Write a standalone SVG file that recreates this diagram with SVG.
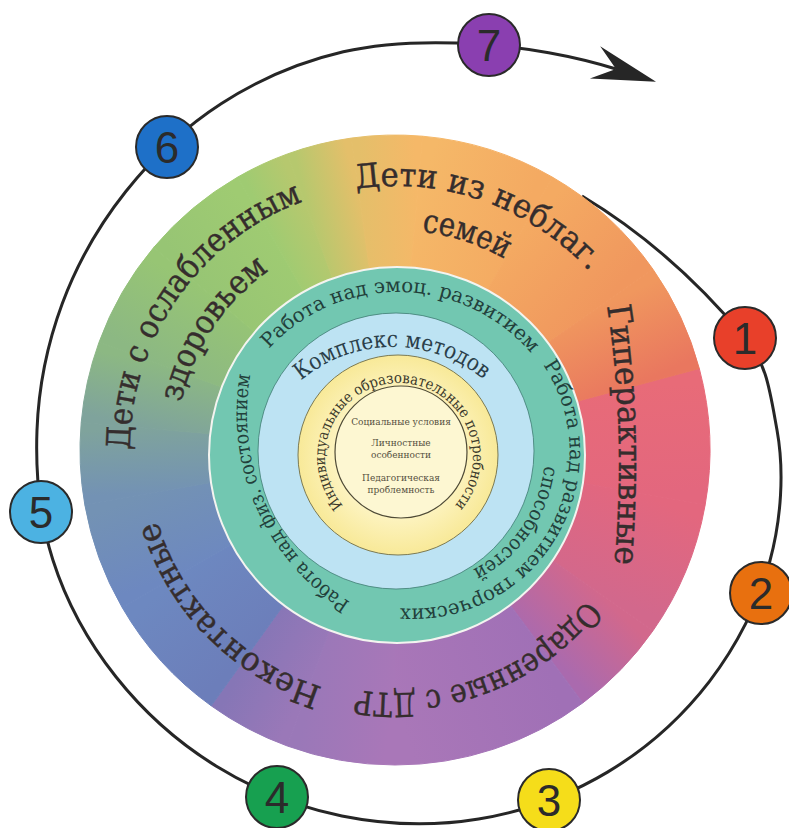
<svg xmlns="http://www.w3.org/2000/svg" width="789" height="828" viewBox="0 0 789 828">
<defs>
<style>
.ot{font-family:"DejaVu Serif","Liberation Serif",serif;font-size:33px;fill:#352d2d;stroke:#352d2d;stroke-width:0.4}
.tt{font-family:"DejaVu Serif","Liberation Serif",serif;font-size:20px;fill:#22403b}
.bt{font-family:"DejaVu Serif","Liberation Serif",serif;font-size:23px;fill:#2b3f4a}
.yt{font-family:"DejaVu Serif","Liberation Serif",serif;font-size:15px;fill:#3c3a2c}
.ct{font-family:"DejaVu Serif","Liberation Serif",serif;font-size:9px;fill:#55503e;text-anchor:middle}
.num{font-family:"Liberation Sans",Arial,sans-serif;font-size:44px;fill:#2b2b2b;text-anchor:middle}
.step{stroke:#2a2a2a;stroke-width:2}
.orbit{fill:none;stroke:#262626;stroke-width:3}
</style>
<linearGradient id="w1" gradientUnits="userSpaceOnUse" x1="636.5" y1="385.3" x2="641.2" y2="493.4"><stop offset="0" stop-color="#e86b78"/><stop offset="1" stop-color="#e3677e"/></linearGradient>
<linearGradient id="w2" gradientUnits="userSpaceOnUse" x1="641.2" y1="493.4" x2="599.8" y2="593.4"><stop offset="0" stop-color="#e3677e"/><stop offset="1" stop-color="#d2688c"/></linearGradient>
<linearGradient id="w3" gradientUnits="userSpaceOnUse" x1="599.8" y1="593.4" x2="544.1" y2="650.7"><stop offset="0" stop-color="#d2688c"/><stop offset="1" stop-color="#aa6aae"/></linearGradient>
<linearGradient id="w4" gradientUnits="userSpaceOnUse" x1="544.1" y1="650.7" x2="395" y2="700"><stop offset="0" stop-color="#a070b6"/><stop offset="1" stop-color="#a977b8"/></linearGradient>
<linearGradient id="w5" gradientUnits="userSpaceOnUse" x1="395" y1="700" x2="309.5" y2="684.9"><stop offset="0" stop-color="#a977b8"/><stop offset="1" stop-color="#9a78b8"/></linearGradient>
<linearGradient id="w6" gradientUnits="userSpaceOnUse" x1="309.5" y1="684.9" x2="249.1" y2="653"><stop offset="0" stop-color="#9a78b8"/><stop offset="1" stop-color="#8676b6"/></linearGradient>
<linearGradient id="w7" gradientUnits="userSpaceOnUse" x1="249.1" y1="653" x2="178.5" y2="575"><stop offset="0" stop-color="#6c7eba"/><stop offset="1" stop-color="#6d88c0"/></linearGradient>
<linearGradient id="w8" gradientUnits="userSpaceOnUse" x1="178.5" y1="575" x2="148.8" y2="493.4"><stop offset="0" stop-color="#6d88c0"/><stop offset="1" stop-color="#7392b4"/></linearGradient>
<linearGradient id="w9" gradientUnits="userSpaceOnUse" x1="148.8" y1="493.4" x2="145.9" y2="428.2"><stop offset="0" stop-color="#7392b4"/><stop offset="1" stop-color="#7fa39c"/></linearGradient>
<linearGradient id="w10" gradientUnits="userSpaceOnUse" x1="145.9" y1="428.2" x2="160.1" y2="364.5"><stop offset="0" stop-color="#7fa39c"/><stop offset="1" stop-color="#8cb883"/></linearGradient>
<linearGradient id="w11" gradientUnits="userSpaceOnUse" x1="160.1" y1="364.5" x2="203.5" y2="289.3"><stop offset="0" stop-color="#8cb883"/><stop offset="1" stop-color="#97c574"/></linearGradient>
<linearGradient id="w12" gradientUnits="userSpaceOnUse" x1="203.5" y1="289.3" x2="270" y2="233.5"><stop offset="0" stop-color="#97c574"/><stop offset="1" stop-color="#9fcb72"/></linearGradient>
<linearGradient id="w13" gradientUnits="userSpaceOnUse" x1="270" y1="233.5" x2="309.5" y2="215.1"><stop offset="0" stop-color="#9fcb72"/><stop offset="1" stop-color="#b6c86e"/></linearGradient>
<linearGradient id="w14" gradientUnits="userSpaceOnUse" x1="309.5" y1="215.1" x2="360.2" y2="202.4"><stop offset="0" stop-color="#b6c86e"/><stop offset="1" stop-color="#e4bf6a"/></linearGradient>
<linearGradient id="w15" gradientUnits="userSpaceOnUse" x1="360.2" y1="202.4" x2="416.8" y2="200.9"><stop offset="0" stop-color="#e4bf6a"/><stop offset="1" stop-color="#f5b868"/></linearGradient>
<linearGradient id="w16" gradientUnits="userSpaceOnUse" x1="416.8" y1="200.9" x2="520" y2="233.5"><stop offset="0" stop-color="#f5b868"/><stop offset="1" stop-color="#f4aa62"/></linearGradient>
<linearGradient id="w17" gradientUnits="userSpaceOnUse" x1="520" y1="233.5" x2="599.8" y2="306.6"><stop offset="0" stop-color="#f4aa62"/><stop offset="1" stop-color="#f0975e"/></linearGradient>
<linearGradient id="w18" gradientUnits="userSpaceOnUse" x1="599.8" y1="306.6" x2="636.5" y2="385.3"><stop offset="0" stop-color="#f0975e"/><stop offset="1" stop-color="#e9775f"/></linearGradient>
<radialGradient id="yel" gradientUnits="userSpaceOnUse" cx="398" cy="455" r="100"><stop offset="0" stop-color="#fffbe3"/><stop offset="0.6" stop-color="#fdf4c2"/><stop offset="1" stop-color="#f8e998"/></radialGradient>
<marker id="arrow" markerUnits="userSpaceOnUse" markerWidth="80" markerHeight="50" refX="0" refY="0" orient="auto" overflow="visible"><path d="M42,0 L-22,-17 L0,0 L-22,17 Z" fill="#262626"/></marker>
<path id="p1" d="M356,188.9 A264,264 0 0 1 643.1,359.7"/>
<path id="p2" d="M421.8,231.6 A220,220 0 0 1 601.7,374.8"/>
<path id="p3" d="M607,306 Q628,440 612,590"/>
<path id="p4" d="M586.5,599.6 A243,243 0 0 1 311.9,678.3"/>
<path id="p5" d="M322.5,687.2 A248,248 0 0 1 147.9,471.6"/>
<path id="p6" d="M130,450 A265,265 0 0 1 358.1,187.6"/>
<path id="p7" d="M181.2,402.6 A219,219 0 0 1 357,234.3"/>
<path id="p8" d="M269,348.8 A175,175 0 0 1 549.6,379.5"/>
<path id="p9" d="M543.1,364.9 A156.5,156.5 0 0 1 359.5,599.1"/>
<path id="p10" d="M544.3,465.8 A132,132 0 0 1 390.1,582"/>
<path id="p11" d="M350.2,602.1 A223,223 0 0 1 260.4,337.7"/>
<path id="p12" d="M300.9,380.6 A143,143 0 0 1 516.8,418.5"/>
<path id="p13" d="M343.2,505.6 A74,74 0 1 1 446.6,513.7"/>
</defs>
<rect width="789" height="828" fill="#ffffff"/>
<g id="connectors">
<path class="orbit" marker-end="url(#arrow)" d="M582,196 Q672,250 745,338 C766.9,364.4 769.5,388.5 777,430 C784.5,471.5 781.2,519.1 769.9,561 C758.7,602.9 736.6,646.1 709.5,681.3 C682.4,716.5 646,749.1 607.5,772.1 C569,795.1 522.9,811.7 478.6,819 C434.3,826.3 385.7,824.8 341.9,816 C298.1,807.2 253.7,789.2 216,766 C178.3,742.8 143.1,711.1 115.9,676.8 C88.7,642.5 66.05,601.1 52.9,560 C39.75,518.9 35.4,472.8 37,430 C38.6,387.3 47.5,343.3 62.3,303.5 C77.1,263.8 99.3,224.8 125.8,191.5 C152.3,158.2 185.25,126.8 221.5,103.5 C257.75,80.2 300.5,61.7 343.3,51.8 C386.1,41.9 432.6,41.2 478.1,44 C523.6,46.8 575,56 616,69"/>
</g>
<g id="ring-outer">
<path fill="url(#w1)" stroke="url(#w1)" d="M395,450 L699.3,368.5 A315,315 0 0 1 705.2,504.7 Z"/>
<path fill="url(#w2)" stroke="url(#w2)" d="M395,450 L705.2,504.7 A315,315 0 0 1 653,630.7 Z"/>
<path fill="url(#w3)" stroke="url(#w3)" d="M395,450 L653,630.7 A315,315 0 0 1 582.8,702.9 Z"/>
<path fill="url(#w4)" stroke="url(#w4)" d="M395,450 L582.8,702.9 A315,315 0 0 1 395,765 Z"/>
<path fill="url(#w5)" stroke="url(#w5)" d="M395,450 L395,765 A315,315 0 0 1 287.3,746 Z"/>
<path fill="url(#w6)" stroke="url(#w6)" d="M395,450 L287.3,746 A315,315 0 0 1 211.2,705.8 Z"/>
<path fill="url(#w7)" stroke="url(#w7)" d="M395,450 L211.2,705.8 A315,315 0 0 1 122.2,607.5 Z"/>
<path fill="url(#w8)" stroke="url(#w8)" d="M395,450 L122.2,607.5 A315,315 0 0 1 84.8,504.7 Z"/>
<path fill="url(#w9)" stroke="url(#w9)" d="M395,450 L84.8,504.7 A315,315 0 0 1 81.2,422.5 Z"/>
<path fill="url(#w10)" stroke="url(#w10)" d="M395,450 L81.2,422.5 A315,315 0 0 1 99,342.3 Z"/>
<path fill="url(#w11)" stroke="url(#w11)" d="M395,450 L99,342.3 A315,315 0 0 1 153.7,247.5 Z"/>
<path fill="url(#w12)" stroke="url(#w12)" d="M395,450 L153.7,247.5 A315,315 0 0 1 237.5,177.2 Z"/>
<path fill="url(#w13)" stroke="url(#w13)" d="M395,450 L237.5,177.2 A315,315 0 0 1 287.3,154 Z"/>
<path fill="url(#w14)" stroke="url(#w14)" d="M395,450 L287.3,154 A315,315 0 0 1 351.2,138.1 Z"/>
<path fill="url(#w15)" stroke="url(#w15)" d="M395,450 L351.2,138.1 A315,315 0 0 1 422.5,136.2 Z"/>
<path fill="url(#w16)" stroke="url(#w16)" d="M395,450 L422.5,136.2 A315,315 0 0 1 552.5,177.2 Z"/>
<path fill="url(#w17)" stroke="url(#w17)" d="M395,450 L552.5,177.2 A315,315 0 0 1 653,269.3 Z"/>
<path fill="url(#w18)" stroke="url(#w18)" d="M395,450 L653,269.3 A315,315 0 0 1 699.3,368.5 Z"/>
<text class="ot"><textPath href="#p1" textLength="258" lengthAdjust="spacingAndGlyphs">Дети из неблаг.</textPath></text>
<text class="ot"><textPath href="#p2" textLength="88" lengthAdjust="spacingAndGlyphs">семей</textPath></text>
<text class="ot"><textPath href="#p3" textLength="259" lengthAdjust="spacingAndGlyphs">Гиперактивные</textPath></text>
<text class="ot"><textPath href="#p4" textLength="260" lengthAdjust="spacingAndGlyphs">Одаренные с ДТР</textPath></text>
<text class="ot"><textPath href="#p5" textLength="244" lengthAdjust="spacingAndGlyphs">Неконтактные</textPath></text>
<text class="ot"><textPath href="#p6" textLength="322" lengthAdjust="spacingAndGlyphs">Дети с ослабленным</textPath></text>
<text class="ot"><textPath href="#p7" textLength="162" lengthAdjust="spacingAndGlyphs">здоровьем</textPath></text>
</g>
<g id="ring-teal">
<circle cx="397" cy="455" r="188" fill="#72c7b1" stroke="#f4f4f0" stroke-width="2"/>
<text class="tt"><textPath href="#p8" textLength="296" lengthAdjust="spacingAndGlyphs">Работа над эмоц. развитием</textPath></text>
<text class="tt"><textPath href="#p9" textLength="351" lengthAdjust="spacingAndGlyphs">Работа над развитием творческих</textPath></text>
<text class="tt"><textPath href="#p10" textLength="132" lengthAdjust="spacingAndGlyphs">способностей</textPath></text>
<text class="tt"><textPath href="#p11" textLength="263" lengthAdjust="spacingAndGlyphs">Работа над физ. состоянием</textPath></text>
</g>
<g id="ring-blue">
<circle cx="396" cy="451" r="138" fill="#bde3f3" stroke="#3f7c72" stroke-width="0.8"/>
<text class="bt"><textPath href="#p12" textLength="198" lengthAdjust="spacingAndGlyphs">Комплекс методов</textPath></text>
</g>
<g id="ring-yellow">
<circle cx="398" cy="455" r="100" fill="url(#yel)" stroke="#7c7a52" stroke-width="1"/>
<text class="yt"><textPath href="#p13" textLength="338" lengthAdjust="spacingAndGlyphs">Индивидуальные образовательные потребности</textPath></text>
</g>
<g id="core">
<circle cx="401" cy="452" r="66" fill="#fdf7d2" stroke="#4e4a36" stroke-width="1.2"/>
<text class="ct" x="401" y="425">Социальные условия</text>
<text class="ct" x="401" y="446">Личностные</text>
<text class="ct" x="401" y="458">особенности</text>
<text class="ct" x="401" y="481">Педагогическая</text>
<text class="ct" x="401" y="493">проблемность</text>
</g>
<g id="step-1"><circle class="step" cx="745" cy="338" r="31" fill="#e8402a"/><text class="num" x="745" y="354">1</text></g>
<g id="step-2"><circle class="step" cx="761" cy="593" r="31" fill="#e8700f"/><text class="num" x="761" y="609">2</text></g>
<g id="step-3"><circle class="step" cx="549" cy="800" r="31" fill="#f5dd1a"/><text class="num" x="549" y="816">3</text></g>
<g id="step-4"><circle class="step" cx="277" cy="797" r="31" fill="#17a050"/><text class="num" x="277" y="813">4</text></g>
<g id="step-5"><circle class="step" cx="41" cy="512" r="31" fill="#4cb2e2"/><text class="num" x="41" y="528">5</text></g>
<g id="step-6"><circle class="step" cx="167" cy="147" r="31" fill="#1e70c8"/><text class="num" x="167" y="163">6</text></g>
<g id="step-7"><circle class="step" cx="489" cy="45" r="31" fill="#8a3fb0"/><text class="num" x="489" y="61">7</text></g>
</svg>
